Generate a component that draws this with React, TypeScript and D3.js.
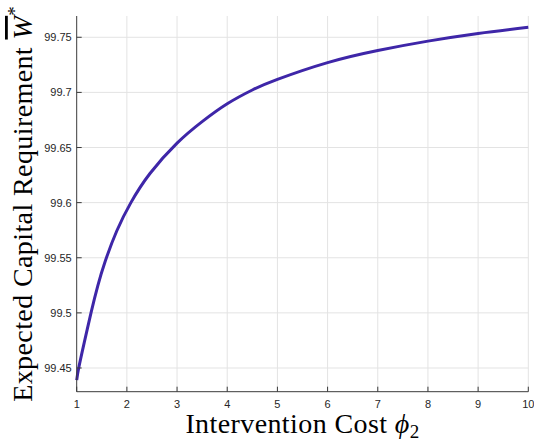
import React, { useEffect, useRef } from "react";
import * as d3 from "d3";

// Intervention cost φ2 and the resulting expected capital requirement W̄*
const phiValues = [1, 1.04, 1.15, 1.285, 1.42, 1.57, 1.8, 2.08, 2.46, 3, 3.5, 4, 4.5, 5, 6, 7, 8, 9, 10];
const capitalValues = [
  99.439, 99.45, 99.473, 99.5, 99.5245, 99.547, 99.5745, 99.6, 99.6264, 99.654, 99.6735,
  99.6897, 99.7022, 99.7118, 99.727, 99.738, 99.7465, 99.7535, 99.759,
];
const xTicks = [1, 2, 3, 4, 5, 6, 7, 8, 9, 10];
const yTicks = [99.45, 99.5, 99.55, 99.6, 99.65, 99.7, 99.75];
const yTickLabels = ["99.45", "99.5", "99.55", "99.6", "99.65", "99.7", "99.75"];

const W = 534;
const H = 444;
const margin = { left: 76.7, right: 5.7, top: 16, bottom: 52.3 };

export default function App() {
  const ref = useRef<SVGSVGElement>(null);

  useEffect(() => {
    const svg = d3.select(ref.current);
    svg.selectAll("*").remove();

    const x = d3.scaleLinear().domain([1, 10]).range([margin.left, W - margin.right]);
    const y = d3.scaleLinear().domain([99.4285, 99.7693]).range([H - margin.bottom, margin.top]);

    const x0 = margin.left;
    const x1 = W - margin.right;
    const y0 = H - margin.bottom;
    const y1 = margin.top;

    const grid = svg.append("g").attr("stroke", "#e3e3e3").attr("stroke-width", 1);
    xTicks.forEach((t) => {
      if (t === 1) return;
      grid.append("line").attr("x1", x(t)).attr("x2", x(t)).attr("y1", y0).attr("y2", y1);
    });
    yTicks.forEach((t) => {
      grid.append("line").attr("x1", x0).attr("x2", x1).attr("y1", y(t)).attr("y2", y(t));
    });

    const line = d3
      .line<number>()
      .x((_, i) => x(phiValues[i]))
      .y((d) => y(d))
      .curve(d3.curveNatural);

    svg
      .append("path")
      .datum(capitalValues)
      .attr("d", line)
      .attr("fill", "none")
      .attr("stroke", "#3e26a8")
      .attr("stroke-width", 3)
      .attr("stroke-linecap", "butt");

    const axisColor = "#262626";
    const axes = svg.append("g").attr("stroke", "#3a3a3a").attr("stroke-width", 1);
    axes.append("line").attr("x1", x0).attr("x2", x0).attr("y1", y0).attr("y2", y1);
    axes.append("line").attr("x1", x0).attr("x2", x1).attr("y1", y0).attr("y2", y0);
    xTicks.forEach((t) => {
      axes.append("line").attr("x1", x(t)).attr("x2", x(t)).attr("y1", y0).attr("y2", y0 - 5);
    });
    yTicks.forEach((t) => {
      axes.append("line").attr("x1", x0).attr("x2", x0 + 5).attr("y1", y(t)).attr("y2", y(t));
    });

    const labels = svg
      .append("g")
      .attr("font-family", "'Liberation Sans', Arial, Helvetica, sans-serif")
      .attr("font-size", 11)
      .attr("fill", axisColor);
    xTicks.forEach((t) => {
      labels
        .append("text")
        .attr("x", x(t))
        .attr("y", y0 + 15.8)
        .attr("text-anchor", "middle")
        .text(String(t));
    });
    yTicks.forEach((t, i) => {
      labels
        .append("text")
        .attr("x", x0 - 5)
        .attr("y", y(t) + 4)
        .attr("text-anchor", "end")
        .text(yTickLabels[i]);
    });

    const serif = "'Liberation Serif', 'Times New Roman', serif";
    const xl = svg
      .append("text")
      .attr("x", (x0 + x1) / 2)
      .attr("y", 433)
      .attr("text-anchor", "middle")
      .attr("font-family", serif)
      .attr("font-size", 28)
      .attr("letter-spacing", 0.4)
      .attr("fill", "#000");
    xl.append("tspan").text("Intervention Cost ");
    xl.append("tspan").attr("font-style", "italic").text("ϕ");
    xl.append("tspan").attr("font-size", 19).attr("dy", 5).text("2");

    const yl = svg
      .append("text")
      .attr("transform", `translate(32,${(y0 + y1) / 2}) rotate(-90)`)
      .attr("text-anchor", "middle")
      .attr("font-family", serif)
      .attr("font-size", 28)
      .attr("letter-spacing", 0.4)
      .attr("fill", "#000");
    yl.append("tspan").text("Expected Capital Requirement ");
    yl.append("tspan").attr("font-style", "italic").attr("text-decoration", "overline").text("W");
    yl.append("tspan").attr("font-size", 19).attr("dy", -11).text("*");
  }, []);

  return (
    <svg
      ref={ref}
      width={W}
      height={H}
      style={{ position: "absolute", left: 0, top: 0, background: "#fff" }}
    />
  );
}
